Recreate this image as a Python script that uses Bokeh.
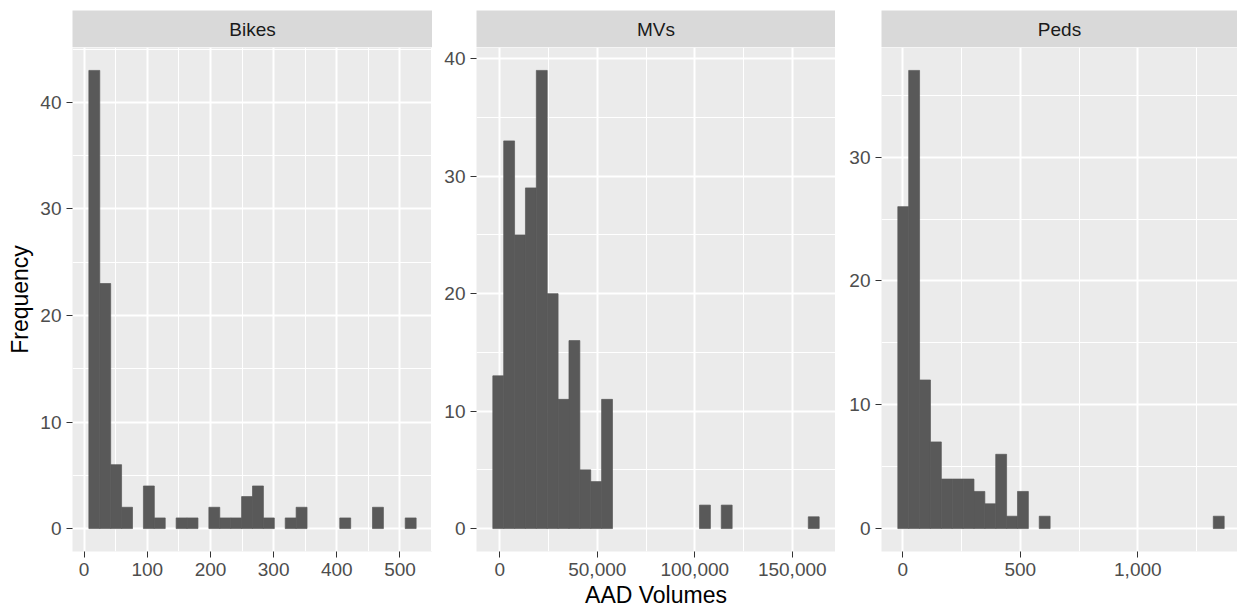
import numpy as np
from bokeh.plotting import figure
from bokeh.models import FixedTicker, NumeralTickFormatter, Range1d, Label
from bokeh.layouts import row, column
from bokeh.embed import file_html
from bokeh.resources import INLINE

# ---- data (histogram counts, 30 bins per facet) ----
panel_names = ["Bikes", "MVs", "Peds"]

bikes_counts = [43, 23, 6, 2, 0, 4, 1, 0, 1, 1, 0, 2, 1, 1, 3,
                4, 1, 0, 1, 2, 0, 0, 0, 1, 0, 0, 2, 0, 0, 1]
bikes_bin_start = 7.45
bikes_bin_width = 17.27

mvs_counts = [13, 33, 25, 29, 39, 20, 11, 16, 5, 4, 11, 0, 0, 0, 0,
              0, 0, 0, 0, 2, 0, 2, 0, 0, 0, 0, 0, 0, 0, 1]
mvs_bin_start = -3587
mvs_bin_width = 5580

peds_counts = [26, 37, 12, 7, 4, 4, 4, 3, 2, 6, 1, 3, 0, 1, 0,
               0, 0, 0, 0, 0, 0, 0, 0, 0, 0, 0, 0, 0, 0, 1]
peds_bin_start = -21.4
peds_bin_width = 46.3

bikes_xticks = [0, 100, 200, 300, 400, 500]
bikes_xminor = [50, 150, 250, 350, 450, 550]
mvs_xticks = [0, 50000, 100000, 150000]
mvs_xminor = [25000, 75000, 125000]
peds_xticks = [0, 500, 1000]
peds_xminor = [250, 750, 1250]

bikes_yticks = [0, 10, 20, 30, 40]
bikes_yminor = [5, 15, 25, 35, 45]
mvs_yticks = [0, 10, 20, 30, 40]
mvs_yminor = [5, 15, 25, 35]
peds_yticks = [0, 10, 20, 30]
peds_yminor = [5, 15, 25, 35]

x_title = "AAD Volumes"
y_title = "Frequency"

FONT = "Liberation Sans"
PANEL_H = 566
STRIP_H = 47
BOTTOM = 62
BAR = "#595959"


def make_strip(name, fig_w, left_border):
    s = figure(width=fig_w, height=STRIP_H, x_range=Range1d(0, 1), y_range=Range1d(0, 1),
               min_border_left=left_border, min_border_right=0, min_border_top=10,
               min_border_bottom=0, background_fill_color="#D9D9D9",
               border_fill_color="white", outline_line_color=None,
               x_axis_location=None, y_axis_location=None,
               toolbar_location=None, output_backend="svg")
    s.grid.visible = False
    s.add_layout(Label(x=0.5, y=0.5, text=name, text_align="center",
                       text_baseline="middle", text_font=FONT,
                       text_font_size="19px", text_color="#1A1A1A"))
    return s


def make_panel(counts, start, width, xticks, xminor, yticks, yminor,
               fig_w, left_border, frame_w, full_w, xlabel=None, ylabel=None):
    counts = np.array(counts, dtype=float)
    edges = start + width * np.arange(len(counts) + 1)
    span = edges[-1] - edges[0]
    lo = edges[0] - 0.05 * span
    hi = edges[-1] + 0.05 * span
    # panel may be clipped at the window edge
    hi = lo + (hi - lo) * frame_w / full_w
    ymax = counts.max()
    p = figure(width=fig_w, height=PANEL_H,
               x_range=Range1d(lo, hi), y_range=Range1d(-0.05 * ymax, 1.05 * ymax),
               min_border_left=left_border, min_border_right=0, min_border_top=0,
               min_border_bottom=BOTTOM, background_fill_color="#EBEBEB",
               border_fill_color="white", outline_line_color=None,
               toolbar_location=None, output_backend="svg")
    keep = counts > 0
    p.quad(left=edges[:-1][keep], right=edges[1:][keep], top=counts[keep], bottom=0,
           fill_color=BAR, line_color=BAR, line_width=0.7)

    xt = FixedTicker(ticks=xticks, minor_ticks=xminor)
    yt = FixedTicker(ticks=yticks, minor_ticks=yminor)
    p.xaxis.ticker = xt
    p.yaxis.ticker = yt
    p.xgrid.ticker = xt
    p.ygrid.ticker = yt
    p.xaxis.formatter = NumeralTickFormatter(format="0,0")

    p.grid.grid_line_color = "white"
    p.grid.grid_line_width = 2
    p.grid.minor_grid_line_color = "white"
    p.grid.minor_grid_line_width = 1

    for ax in (p.xaxis, p.yaxis):
        ax.axis_line_color = None
        ax.minor_tick_line_color = None
        ax.major_tick_line_color = "#333333"
        ax.major_tick_line_width = 1
        ax.major_tick_out = 6
        ax.major_tick_in = 0
        ax.major_label_text_font = FONT
        ax.major_label_text_font_size = "19px"
        ax.major_label_text_color = "#4D4D4D"
        ax.major_label_standoff = 5
        ax.axis_label_text_font = FONT
        ax.axis_label_text_font_size = "23px"
        ax.axis_label_text_font_style = "normal"
        ax.axis_label_text_color = "black"
    if xlabel:
        p.xaxis.axis_label = xlabel
        p.xaxis.axis_label_standoff = 3
    if ylabel:
        p.yaxis.axis_label = ylabel
        p.yaxis.axis_label_standoff = 4
    return p


s1 = make_strip(panel_names[0], 432, 72)
p1 = make_panel(bikes_counts, bikes_bin_start, bikes_bin_width, bikes_xticks, bikes_xminor,
                bikes_yticks, bikes_yminor, 432, 72, 360, 360, ylabel=y_title)
s2 = make_strip(panel_names[1], 403, 44)
p2 = make_panel(mvs_counts, mvs_bin_start, mvs_bin_width, mvs_xticks, mvs_xminor,
                mvs_yticks, mvs_yminor, 403, 44, 359, 359, xlabel=x_title)
s3 = make_strip(panel_names[2], 402, 46)
p3 = make_panel(peds_counts, peds_bin_start, peds_bin_width, peds_xticks, peds_xminor,
                peds_yticks, peds_yminor, 402, 46, 356, 359)

layout = row(column(s1, p1), column(s2, p2), column(s3, p3))

open("out.html", "w").write(file_html(layout, INLINE))
